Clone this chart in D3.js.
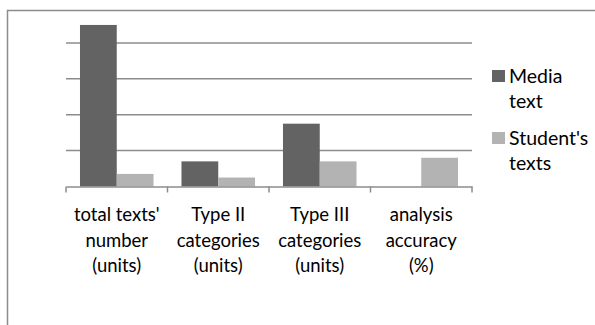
<!DOCTYPE html>
<html>
<head>
<meta charset="utf-8">
<script src="https://cdn.jsdelivr.net/npm/d3@7"></script>
<style>
  html, body { margin: 0; padding: 0; background: #fff; }
  svg { display: block; font-family: Lato, "Open Sans", sans-serif; }
</style>
</head>
<body>
<svg id="chart" width="595" height="325"></svg>
<script>
// Category labels (one array of lines per category)
const categories = [
  ["total texts'", "number", "(units)"],
  ["Type II", "categories", "(units)"],
  ["Type III", "categories", "(units)"],
  ["analysis", "accuracy", "(%)"]
];
const seriesNames = ["Media text", "Student's texts"];
const mediaValues   = [90, 14, 35, 0];
const studentValues = [7, 5, 14, 16];
const gridTicks = [0, 20, 40, 60, 80];

const colors = ["#636363", "#b3b3b3"];

const svg = d3.select("#chart");

// outer frame
svg.append("rect")
  .attr("x", 7.5).attr("y", 10.5)
  .attr("width", 600).attr("height", 320)
  .attr("fill", "none").attr("stroke", "#8c8c8c").attr("stroke-width", 1.5);

const plot = { left: 66, right: 472, top: 7, bottom: 186.5 };

const x0 = d3.scaleBand()
  .domain(d3.range(categories.length))
  .range([plot.left, plot.right])
  .paddingInner(0).paddingOuter(0);

const x1 = d3.scaleBand()
  .domain([0, 1])
  .range([0, x0.bandwidth()])
  .paddingOuter(0.38).paddingInner(0);

const y = d3.scaleLinear().domain([0, 100]).range([plot.bottom, plot.top]);

// horizontal gridlines
svg.append("g")
  .selectAll("line")
  .data(gridTicks.filter(d => d > 0))
  .join("line")
  .attr("x1", plot.left).attr("x2", plot.right)
  .attr("y1", d => y(d)).attr("y2", d => y(d))
  .attr("stroke", "#8c8c8c").attr("stroke-width", 1.5);

// bars
const rows = categories.map((c, i) => [mediaValues[i], studentValues[i]]);
const groups = svg.append("g").selectAll("g")
  .data(rows)
  .join("g")
  .attr("transform", (d, i) => `translate(${x0(i)},0)`);

groups.selectAll("rect")
  .data(d => d.map((v, s) => ({ v, s })))
  .join("rect")
  .attr("x", d => x1(d.s))
  .attr("width", x1.bandwidth())
  .attr("y", d => y(d.v))
  .attr("height", d => y(0) - y(d.v))
  .attr("fill", d => colors[d.s]);

// category axis
const xAxis = d3.axisBottom(x0)
  .tickSize(0)
  .tickFormat("");
const axisG = svg.append("g")
  .attr("transform", `translate(0,${plot.bottom})`)
  .call(xAxis);
axisG.select(".domain").attr("stroke", "#8c8c8c").attr("stroke-width", 1.5);

// tick marks on band boundaries
const boundaries = d3.range(categories.length + 1).map(i =>
  i < categories.length ? x0(i) : x0(categories.length - 1) + x0.bandwidth());
axisG.selectAll(".bound")
  .data(boundaries)
  .join("line")
  .attr("class", "bound")
  .attr("x1", d => d).attr("x2", d => d)
  .attr("y1", 0).attr("y2", 6)
  .attr("stroke", "#8c8c8c").attr("stroke-width", 1.5);

// multi-line category labels
const labels = svg.append("g").selectAll("text")
  .data(categories)
  .join("text")
  .attr("text-anchor", "middle")
  .attr("font-size", 18.5)
  .attr("fill", "#000");
labels.each(function (lines, i) {
  d3.select(this).selectAll("tspan")
    .data(lines)
    .join("tspan")
    .attr("x", x0(i) + x0.bandwidth() / 2)
    .attr("y", (d, k) => 221 + k * 25.5)
    .text(d => d);
});

// legend
const legendLines = [["Media", "text"], ["Student's", "texts"]];
const legend = svg.append("g");
legendLines.forEach((lines, s) => {
  const top = 70 + s * 62;
  legend.append("rect")
    .attr("x", 492).attr("y", top)
    .attr("width", 13).attr("height", 12)
    .attr("fill", colors[s]);
  const t = legend.append("text")
    .attr("font-size", 19.5).attr("fill", "#000");
  t.selectAll("tspan")
    .data(lines)
    .join("tspan")
    .attr("x", 509)
    .attr("y", (d, k) => top + 12.5 + k * 25)
    .text(d => d);
});
</script>
</body>
</html>
